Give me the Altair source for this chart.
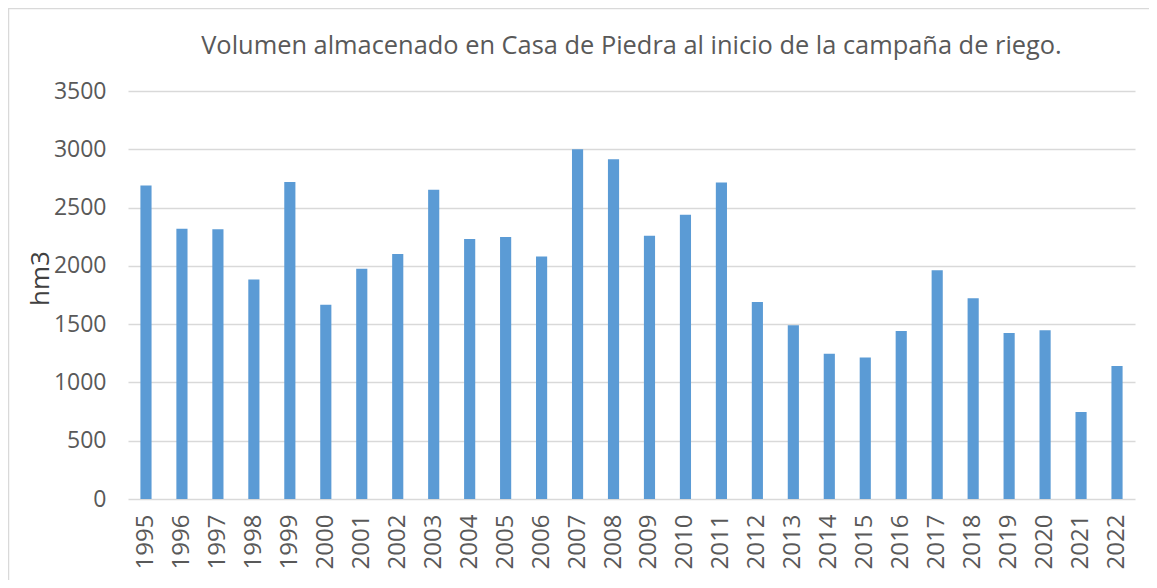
import altair as alt
import pandas as pd

years = [str(y) for y in range(1995, 2023)]
volumes = [2690, 2318, 2315, 1883, 2719, 1666, 1975, 2101, 2653, 2230, 2247, 2081,
           3000, 2914, 2258, 2438, 2716, 1689, 1491, 1245, 1214, 1442, 1963, 1723,
           1425, 1448, 747, 1142]
title_text = "Volumen almacenado en Casa de Piedra al inicio de la campaña de riego."
y_ticks = [0, 500, 1000, 1500, 2000, 2500, 3000, 3500]

df = pd.DataFrame({"year": years, "value": volumes})

FONT = "Open Sans"
GREY = "#595959"

bars = alt.Chart(df).mark_bar(color="#5b9bd5").encode(
    x=alt.X("year:N", sort=years, title=None,
            scale=alt.Scale(paddingInner=0.69, paddingOuter=0.345),
            axis=alt.Axis(labelAngle=270, labelPadding=15, ticks=False, domain=False,
                          labelFont=FONT, labelFontSize=24, labelColor=GREY, grid=False)),
    y=alt.Y("value:Q", title="hm3",
            scale=alt.Scale(domain=[0, 3500], nice=False),
            axis=alt.Axis(values=y_ticks, format="d", ticks=False, domain=False, labelPadding=22,
                          labelFont=FONT, labelFontSize=23, labelColor=GREY,
                          gridColor="#d9d9d9", gridWidth=1.5,
                          titleFont=FONT, titleFontSize=26, titleColor="#404040",
                          titleFontWeight="normal", titleAngle=270,
                          titleX=-88, titleY=187, titleAlign="center",
                          titleBaseline="middle")),
)

border = alt.Chart(pd.DataFrame({"a": [0]})).mark_rule(color="#d9d9d9", strokeWidth=1.5).encode(
    x=alt.value(-119.5), y=alt.value(-83), y2=alt.value(600)
)
border_top = alt.Chart(pd.DataFrame({"a": [0]})).mark_rule(color="#d9d9d9", strokeWidth=1.5).encode(
    x=alt.value(-119.5), x2=alt.value(1100), y=alt.value(-82.5)
)

chart = alt.layer(bars, border, border_top).properties(
    width=1007, height=408,
    title=alt.TitleParams(title_text, font=FONT, fontSize=25.4, fontWeight="normal",
                          color=GREY, anchor="middle", baseline="alphabetic", offset=-72),
    autosize=alt.AutoSizeParams(type="none"),
    padding={"left": 120, "top": 83, "right": 14, "bottom": 81},
).configure_view(stroke=None)

chart.save("out.html", embed_options={"renderer": "svg", "actions": False})
